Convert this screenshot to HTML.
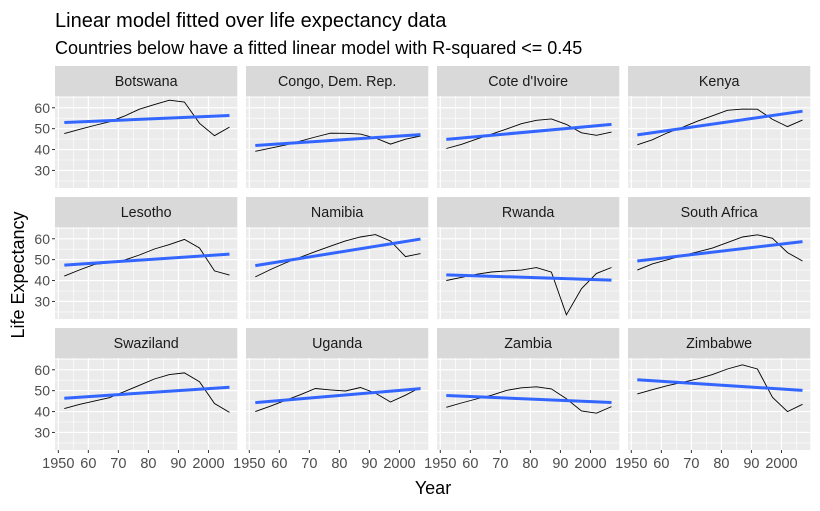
<!DOCTYPE html>
<html><head><meta charset="utf-8"><style>
body{margin:0;background:#fff;}
svg text{font-family:"Liberation Sans",Arial,sans-serif;}
</style></head><body>
<svg id="chart" width="820" height="506" xmlns="http://www.w3.org/2000/svg">
<text x="55" y="27" font-size="20" fill="#000">Linear model fitted over life expectancy data</text>
<text x="55" y="54" font-size="18" fill="#000">Countries below have a fitted linear model with R-squared &lt;= 0.45</text>
<text x="433" y="494" font-size="18" text-anchor="middle" fill="#000">Year</text>
<text transform="translate(24,275) rotate(-90)" font-size="18" text-anchor="middle" fill="#000">Life Expectancy</text>
<g id="panels"></g>
</svg>
<script>
const years=[1952,1957,1962,1967,1972,1977,1982,1987,1992,1997,2002,2007];
const countries=["Botswana","Congo, Dem. Rep.","Cote d'Ivoire","Kenya","Lesotho","Namibia","Rwanda","South Africa","Swaziland","Uganda","Zambia","Zimbabwe"];
const botswana=[47.622,49.618,51.52,53.298,56.024,59.319,61.484,63.622,62.745,52.556,46.634,50.728];
const congo=[39.143,40.652,42.122,44.056,45.989,47.804,47.784,47.412,45.548,42.587,44.966,46.462];
const coteDivoire=[40.477,42.469,44.93,47.35,49.801,52.374,53.983,54.655,52.044,47.991,46.832,48.328];
const kenya=[42.27,44.686,47.949,50.654,53.559,56.155,58.766,59.339,59.285,54.407,50.992,54.11];
const lesotho=[42.138,45.047,47.747,48.492,49.767,52.208,55.078,57.18,59.685,55.558,44.593,42.592];
const namibia=[41.725,45.226,48.386,51.159,53.867,56.437,58.968,60.835,61.999,58.909,51.479,52.906];
const rwanda=[40,41.5,43,44.1,44.6,45,46.218,44.02,23.599,36.087,43.413,46.242];
const southAfrica=[45.009,47.985,49.951,51.927,53.696,55.527,58.161,60.834,61.888,60.236,53.365,49.339];
const swaziland=[41.407,43.424,44.992,46.633,49.552,52.537,55.561,57.678,58.474,54.289,43.869,39.613];
const uganda=[39.978,42.571,45.344,48.051,51.016,50.35,49.849,51.509,48.825,44.578,47.813,51.542];
const zambia=[42.038,44.077,46.023,47.768,50.107,51.386,51.821,50.821,46.1,40.238,39.193,42.384];
const zimbabwe=[48.451,50.469,52.358,53.995,55.635,57.674,60.363,62.351,60.377,46.809,39.989,43.487];
const seriesList=[botswana,congo,coteDivoire,kenya,lesotho,namibia,rwanda,southAfrica,swaziland,uganda,zambia,zimbabwe];
const xTicks=[1950,1960,1970,1980,1990,2000];
const xTickLabels=["1950","60","70","80","90","2000"];
const yTicks=[30,40,50,60];

const NS="http://www.w3.org/2000/svg";
const g=document.getElementById('panels');
const PW=182.3,PH=92,STEP_X=191,STEP_Y=131,X0=55,Y0=96;
const allV=seriesList.flat();
const vmin=Math.min(...allV),vmax=Math.max(...allV);
const yMin=vmin-(vmax-vmin)*0.05,yMax=vmax+(vmax-vmin)*0.05;
const xMin=1948.9,xMax=2009.6;
function mk(tag,attrs){const e=document.createElementNS(NS,tag);for(const k in attrs)e.setAttribute(k,attrs[k]);return e;}
function sx(px,v){return px+(v-xMin)/(xMax-xMin)*PW;}
function sy(py,v){return py+PH-(v-yMin)/(yMax-yMin)*PH;}
countries.forEach((name,i)=>{
  const col=i%4,row=Math.floor(i/4);
  const px=X0+col*STEP_X,py=Y0+row*STEP_Y;
  const pg=mk('g',{});
  
  
  g.appendChild(pg);
  const strip=mk('rect',{x:px,y:py-30,width:PW,height:30,fill:'#D9D9D9'});
  
  
  pg.appendChild(strip);
  const st=mk('text',{x:px+PW/2,y:py-10,'font-size':14.3,'text-anchor':'middle',fill:'#1A1A1A'});
  st.textContent=name;
  
  
  pg.appendChild(st);
  const bg=mk('rect',{x:px,y:py,width:PW,height:PH,fill:'#EBEBEB'});
  
  
  pg.appendChild(bg);
  for(let v=25;v<=65;v+=10){const y=sy(py,v);if(y>py&&y<py+PH)pg.appendChild(mk('line',{x1:px,x2:px+PW,y1:y,y2:y,stroke:'#fff','stroke-width':0.6}));}
  for(let v=1945;v<=2010;v+=10){const x=sx(px,v);if(x>px&&x<px+PW)pg.appendChild(mk('line',{x1:x,x2:x,y1:py,y2:py+PH,stroke:'#fff','stroke-width':0.6}));}
  yTicks.forEach(v=>{const y=sy(py,v);pg.appendChild(mk('line',{x1:px,x2:px+PW,y1:y,y2:y,stroke:'#fff','stroke-width':1.2}));});
  xTicks.forEach(v=>{const x=sx(px,v);pg.appendChild(mk('line',{x1:x,x2:x,y1:py,y2:py+PH,stroke:'#fff','stroke-width':1.2}));});
  const s=seriesList[i];
  const pts=years.map((yr,j)=>sx(px,yr).toFixed(1)+','+sy(py,s[j]).toFixed(1)).join(' ');
  const dl=mk('polyline',{points:pts,fill:'none',stroke:'#000','stroke-width':0.9});
  
  
  pg.appendChild(dl);
  const n=years.length,mx=years.reduce((a,b)=>a+b)/n,my=s.reduce((a,b)=>a+b)/n;
  let sxy=0,sxx=0;years.forEach((yr,j)=>{sxy+=(yr-mx)*(s[j]-my);sxx+=(yr-mx)**2;});
  const b=sxy/sxx,a=my-b*mx;
  const fl=mk('line',{x1:sx(px,years[0]),y1:sy(py,a+b*years[0]),x2:sx(px,years[n-1]),y2:sy(py,a+b*years[n-1]),stroke:'#3366FF','stroke-width':3});
  
  
  pg.appendChild(fl);
  if(col===0){
    yTicks.forEach(v=>{const y=sy(py,v);
      pg.appendChild(mk('line',{x1:px-3,x2:px,y1:y,y2:y,stroke:'#333','stroke-width':1}));
      const t=mk('text',{x:px-5,y:y+5,'font-size':14,'text-anchor':'end',fill:'#4D4D4D'});t.textContent=v;
      
      
      pg.appendChild(t);});
  }
  if(row===2){
    xTicks.forEach((v,k)=>{const x=sx(px,v);
      pg.appendChild(mk('line',{x1:x,x2:x,y1:py+PH,y2:py+PH+3,stroke:'#333','stroke-width':1}));
      const t=mk('text',{x:x,y:py+PH+18,'font-size':14.5,'text-anchor':'middle',fill:'#4D4D4D'});t.textContent=xTickLabels[k];
      
      
      pg.appendChild(t);});
  }
});
</script>
</body></html>
